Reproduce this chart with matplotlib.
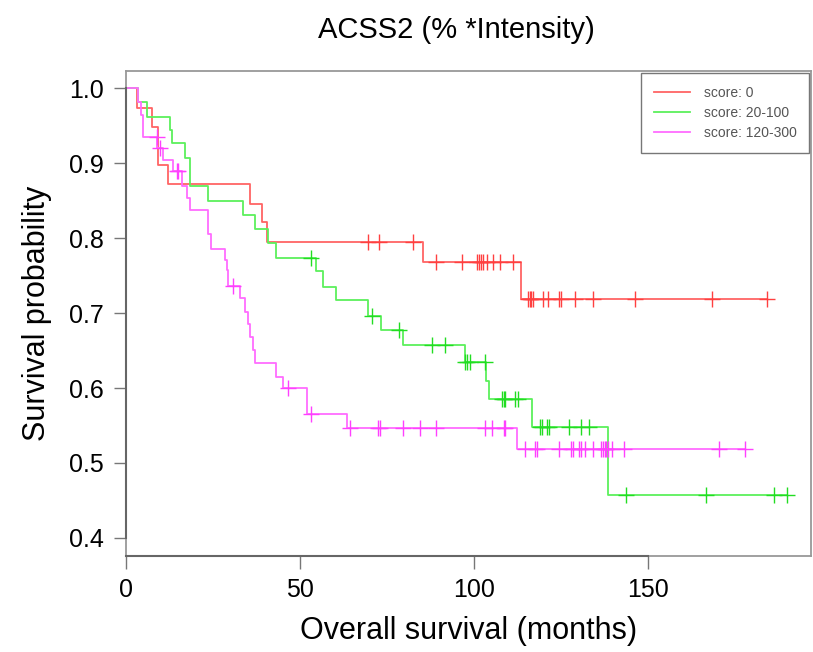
import numpy as np
import matplotlib
matplotlib.use("Agg")
import matplotlib.pyplot as plt

plt.rcParams['font.family'] = ['Liberation Sans', 'DejaVu Sans']

# score: 0
red_times = [3.1, 7.6, 9.3, 12.1, 35.6, 39.0, 40.4, 85.2, 113.4]
red_surv = [0.974, 0.949, 0.897, 0.872, 0.846, 0.821, 0.795, 0.768, 0.719]
red_cens = [69.6, 72.7, 82.3, 88.9, 96.5, 100.8, 101.3, 101.8, 102.5, 103.6, 105.5,
            107.5, 111.1, 115.4, 115.9, 116.4, 117.0, 119.7, 121.2, 124.3, 124.9,
            129.0, 134.0, 146.2, 168.4, 184.1]

# score: 20-100
green_times = [3.5, 6.1, 12.6, 13.1, 17.0, 18.4, 23.6, 33.7, 37.1, 40.9, 43.1, 54.6,
               56.7, 60.4, 69.4, 73.2, 79.4, 97.2, 103.4, 104.2, 116.6, 138.4]
green_surv = [0.982, 0.962, 0.944, 0.927, 0.907, 0.869, 0.850, 0.831, 0.812, 0.793,
              0.773, 0.756, 0.735, 0.717, 0.696, 0.677, 0.657, 0.635, 0.610, 0.585,
              0.548, 0.457]
green_cens = [53.2, 70.5, 78.3, 87.9, 91.5, 97.4, 97.9, 98.9, 103.0, 108.0, 108.4,
              108.9, 111.6, 112.7, 119.0, 119.4, 120.9, 121.6, 127.1, 130.7, 132.9,
              143.7, 166.6, 186.2, 189.8]

# score: 120-300
mag_times = [3.5, 4.3, 4.9, 9.0, 10.7, 13.6, 16.0, 17.4, 18.4, 23.6, 24.4, 28.4, 28.9,
             29.4, 32.8, 34.1, 35.1, 35.6, 36.6, 37.1, 43.1, 45.0, 51.9, 63.4, 112.2]
mag_surv = [0.982, 0.964, 0.935, 0.920, 0.904, 0.889, 0.869, 0.853, 0.838, 0.806,
            0.786, 0.771, 0.757, 0.736, 0.720, 0.702, 0.686, 0.668, 0.651, 0.634,
            0.615, 0.600, 0.565, 0.546, 0.519]
mag_cens = [8.8, 9.7, 14.5, 15.0, 30.8, 46.5, 53.2, 64.4, 72.3, 73.0, 79.5, 84.3, 89.1,
            103.0, 105.1, 108.6, 108.9, 114.7, 117.5, 118.0, 124.2, 127.9, 128.4, 130.0,
            130.7, 131.9, 134.1, 136.5, 137.0, 137.4, 137.9, 138.4, 139.6, 143.1, 170.4,
            177.7]

labels = ["score: 0", "score: 20-100", "score: 120-300"]
x_ticks = [0, 50, 100, 150]
y_ticks = [0.4, 0.5, 0.6, 0.7, 0.8, 0.9, 1.0]


def surv_at(times, surv, t):
    i = np.searchsorted(times, t, side="right")
    return 1.0 if i == 0 else surv[i - 1]


def draw_km(ax, times, surv, cens, line_col, mark_col, label):
    end = max(max(times), max(cens))
    xs = [0] + list(times) + [end]
    ys = [1.0] + list(surv) + [surv[-1]]
    ax.step(xs, ys, where="post", color=line_col, lw=1.3, label=label, zorder=3)
    cy = [surv_at(times, surv, c) for c in cens]
    ax.plot(cens, cy, ls="none", marker="+", ms=11, mew=1.0, color=mark_col, zorder=4)


fig = plt.figure(figsize=(8.13, 6.52), dpi=100)
ax = fig.add_axes([0.155, 0.147, 0.843, 0.744])

draw_km(ax, red_times, red_surv, red_cens, "#ff6464", "#ff4040", labels[0])
draw_km(ax, green_times, green_surv, green_cens, "#5cf05c", "#22dd22", labels[1])
draw_km(ax, mag_times, mag_surv, mag_cens, "#ff6cff", "#ff40ff", labels[2])

ax.set_xlim(0, 196.8)
ax.set_ylim(0.3756, 1.023)
ax.set_xticks(x_ticks)
ax.set_yticks(y_ticks)
ax.set_yticklabels([f"{v:.1f}" for v in y_ticks])
ax.tick_params(axis="both", labelsize=18, length=9, width=1.0, color="#777777",
               direction="out", pad=7)

for s in ax.spines.values():
    s.set_color("#999999")
    s.set_linewidth(1.3)

# R style axis lines between the outer ticks
ax.plot([0, 150], [0.3756, 0.3756], color="#666666", lw=1.5, clip_on=False, zorder=5)
ax.plot([0, 0], [0.4, 1.0], color="#666666", lw=1.5, clip_on=False, zorder=5)

ax.set_xlabel("Overall survival (months)", fontsize=22, labelpad=10)
ax.set_ylabel("Survival probability", fontsize=22, labelpad=12)
fig.suptitle("ACSS2 (% *Intensity)", fontsize=21, x=0.561, y=0.975)

leg = ax.legend(loc="upper right", fontsize=10, frameon=True, fancybox=False,
                handlelength=2.6, borderpad=0.9, labelspacing=0.45, borderaxespad=0.15,
                handletextpad=1.0)
leg.get_frame().set_edgecolor("#555555")
leg.get_frame().set_linewidth(1.0)
for t in leg.get_texts():
    t.set_color("#555555")

fig.savefig("out.png", dpi=100)
